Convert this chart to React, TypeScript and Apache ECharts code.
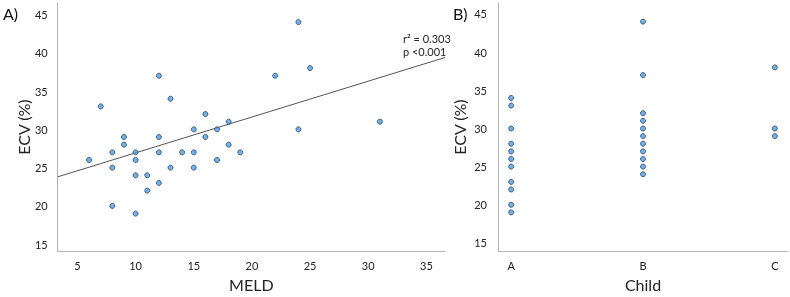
import React, { useEffect, useRef } from "react";
import * as echarts from "echarts";

// Panel A: MELD score vs ECV (%)
const meldScores = [
  7, 9, 9, 12, 12, 13, 15, 16, 16, 17, 18, 18, 22, 24, 25, 24, 31, 6, 8, 8,
  8, 10, 10, 10, 10, 11, 11, 12, 12, 13, 14, 15, 15, 17, 19,
];
const ecvByMeld = [
  33, 29, 28, 37, 29, 34, 30, 32, 29, 30, 31, 28, 37, 44, 38, 30, 31, 26, 27, 25,
  20, 27, 26, 24, 19, 24, 22, 27, 23, 25, 27, 27, 25, 26, 27,
];

// Linear fit shown in panel A
const fitIntercept = 22.25;
const fitSlope = 0.468;
const fitText = ["r² = 0.303", "p <0.001"];

// Panel B: Child-Pugh class vs ECV (%)
const childClasses = ["A", "B", "C"];
const ecvChildA = [34, 33, 30, 28, 27, 26, 25, 23, 22, 20, 19];
const ecvChildB = [44, 37, 32, 31, 30, 29, 28, 27, 26, 25, 24];
const ecvChildC = [38, 30, 29];

const yTicks = [15, 20, 25, 30, 35, 40, 45];
const meldTicks = [5, 10, 15, 20, 25, 30, 35];

const FONT = "Lato";
const meldMin = 3.3;
const meldMax = 36.6;

export default function App() {
  const ref = useRef<HTMLDivElement>(null);

  useEffect(() => {
    if (!ref.current) return;
    const chart = echarts.init(ref.current, undefined, { renderer: "svg" });

    const pointStyle = {
      color: "#4f9fe2",
      borderColor: "#26425f",
      borderWidth: 1,
    };

    const meldPoints = meldScores.map((m, i) => [m, ecvByMeld[i]]);
    const childPoints: number[][] = [];
    [ecvChildA, ecvChildB, ecvChildC].forEach((vals, gi) =>
      vals.forEach((v) => childPoints.push([gi + 1, v]))
    );
    const fitLine = [meldMin, meldMax].map((x) => [x, fitIntercept + fitSlope * x]);

    const axisLine = { show: true, lineStyle: { color: "#b4b4b4", width: 1 } };
    const label = { color: "#222", fontSize: 11, fontFamily: FONT };
    const nameStyle = { color: "#222", fontSize: 16, fontFamily: FONT };

    chart.setOption({
      animation: false,
      grid: [
        { left: 47, top: 3, right: 345, bottom: 38 },
        { left: 498, top: 3, right: 2, bottom: 35 },
      ],
      xAxis: [
        {
          gridIndex: 0,
          type: "value",
          min: meldMin,
          max: meldMax,
          name: "MELD",
          nameLocation: "middle",
          nameGap: 21,
          nameTextStyle: nameStyle,
          axisLine,
          axisTick: { show: false },
          splitLine: { show: false },
          axisLabel: { ...label, margin: 9, customValues: meldTicks },
        },
        {
          gridIndex: 1,
          type: "value",
          min: 0.9,
          max: 3.1,
          name: "Child",
          nameLocation: "middle",
          nameGap: 19,
          nameTextStyle: nameStyle,
          axisLine,
          axisTick: { show: false },
          splitLine: { show: false },
          axisLabel: {
            ...label,
            margin: 9,
            customValues: [1, 2, 3],
            formatter: (v: number) => childClasses[Math.round(v) - 1] ?? "",
          },
        },
      ],
      yAxis: [
        {
          gridIndex: 0,
          type: "value",
          min: 14.1,
          max: 46.5,
          name: "ECV (%)",
          nameLocation: "middle",
          nameGap: 26,
          nameTextStyle: nameStyle,
          axisLine,
          axisTick: { show: false },
          splitLine: { show: false },
          axisLabel: { ...label, margin: 10, customValues: yTicks },
        },
        {
          gridIndex: 1,
          type: "value",
          min: 13.93,
          max: 46.44,
          name: "ECV (%)",
          nameLocation: "middle",
          nameGap: 31,
          nameTextStyle: nameStyle,
          axisLine,
          axisTick: { show: false },
          splitLine: { show: false },
          axisLabel: { ...label, margin: 11, customValues: yTicks },
        },
      ],
      series: [
        {
          type: "line",
          xAxisIndex: 0,
          yAxisIndex: 0,
          data: fitLine,
          symbol: "none",
          lineStyle: { color: "#555", width: 1 },
          silent: true,
          z: 1,
        },
        {
          type: "scatter",
          xAxisIndex: 0,
          yAxisIndex: 0,
          data: meldPoints,
          symbol: "circle",
          symbolSize: 5,
          itemStyle: pointStyle,
          z: 2,
        },
        {
          type: "scatter",
          xAxisIndex: 1,
          yAxisIndex: 1,
          data: childPoints,
          symbol: "circle",
          symbolSize: 5,
          itemStyle: pointStyle,
          z: 2,
        },
      ],
      graphic: [
        {
          type: "text",
          left: 3,
          top: 5,
          style: { text: "A)", fontSize: 16, fontFamily: FONT, fill: "#111" },
        },
        {
          type: "text",
          left: 453,
          top: 5,
          style: { text: "B)", fontSize: 16, fontFamily: FONT, fill: "#111" },
        },
        {
          type: "text",
          left: 403,
          top: 32,
          style: {
            text: fitText.join("\n"),
            fontSize: 11,
            lineHeight: 13,
            fontFamily: FONT,
            fill: "#222",
          },
        },
      ],
    });

    return () => chart.dispose();
  }, []);

  return (
    <div
      ref={ref}
      style={{ position: "fixed", left: 0, top: 0, width: 790, height: 297 }}
    />
  );
}
